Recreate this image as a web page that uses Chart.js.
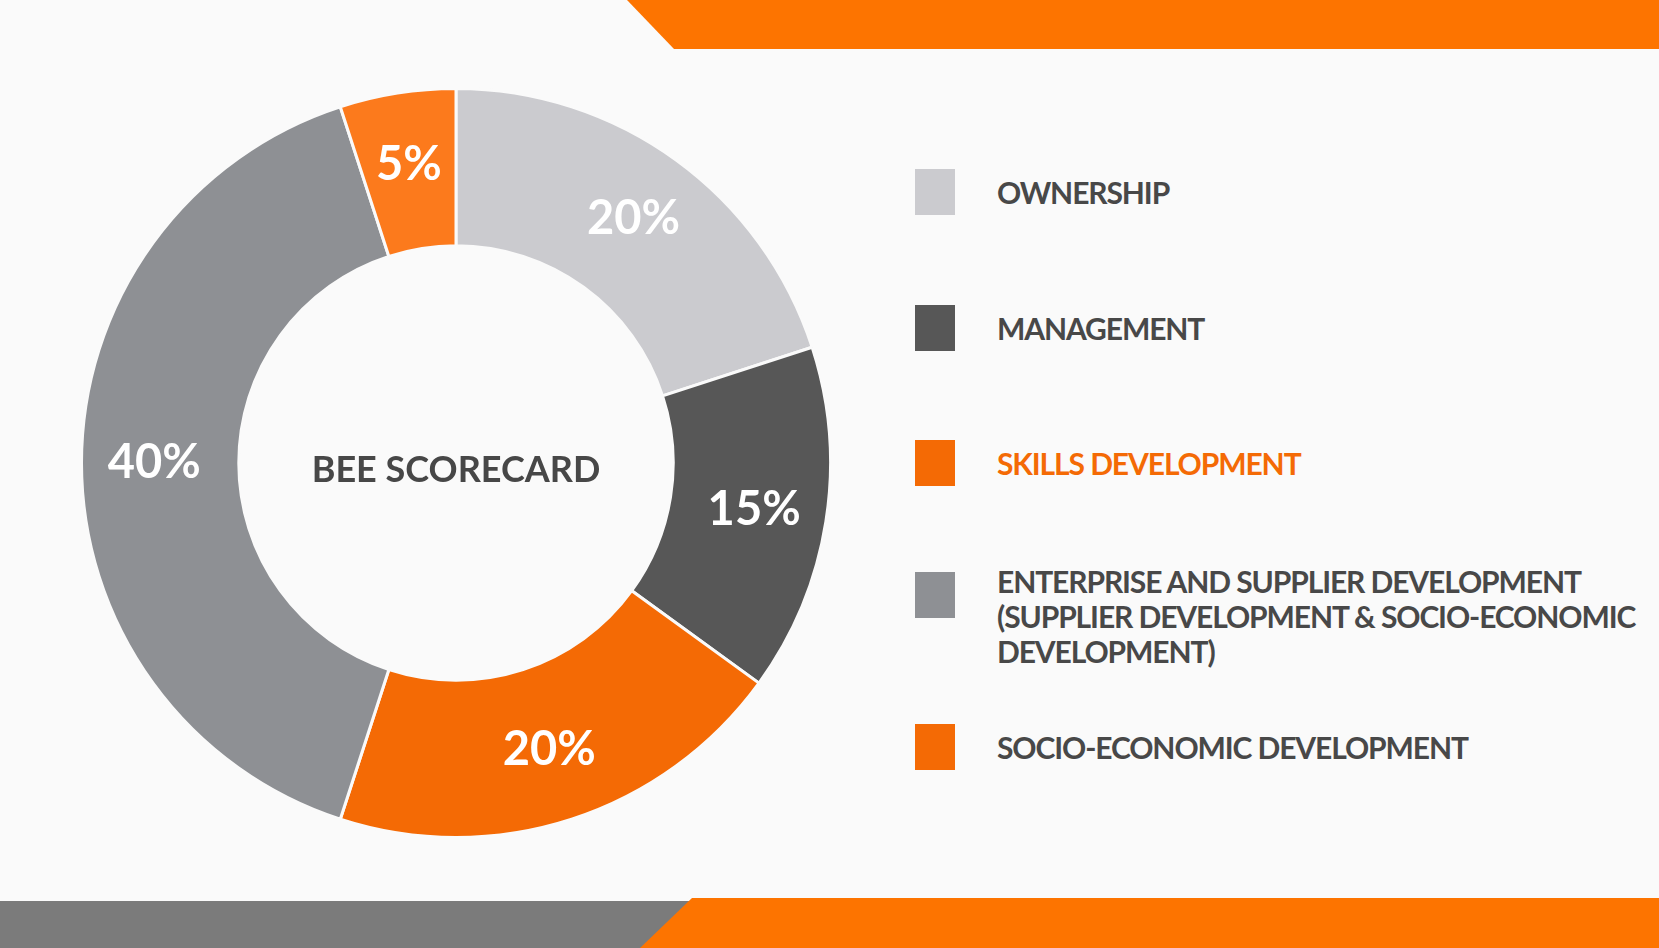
<!DOCTYPE html>
<html>
<head>
<meta charset="utf-8">
<script src="https://cdn.jsdelivr.net/npm/chart.js@4.4.1/dist/chart.umd.min.js"></script>
<style>
  html, body {
    margin: 0;
    padding: 0;
    width: 1659px;
    height: 948px;
    overflow: hidden;
    background: #fafafa;
    font-family: 'Lato', 'Noto Sans', sans-serif;
  }
  .band { position: absolute; }
  #band-top {
    left: 0; top: 0; width: 1659px; height: 49px;
    background: #fd7400;
    clip-path: polygon(627px 0, 1659px 0, 1659px 49px, 674px 49px);
  }
  #band-grey {
    left: 0; top: 901px; width: 720px; height: 47px;
    background: #7b7b7b;
  }
  #band-bottom {
    left: 0; top: 898px; width: 1659px; height: 50px;
    background: #fd7400;
    clip-path: polygon(692px 0, 1659px 0, 1659px 50px, 640px 50px);
  }
  #chart-box {
    position: absolute;
    left: 80px; top: 87px;
    width: 752px; height: 752px;
  }
  .swatch {
    position: absolute;
    left: 915px;
    width: 40px; height: 46px;
  }
  .legend-text {
    position: absolute;
    left: 997px;
    font-size: 30px;
    font-weight: 700;
    letter-spacing: -1.1px;
    line-height: 35px;
    white-space: nowrap;
    color: #484848;
  }
</style>
</head>
<body>
<div class="band" id="band-top"></div>
<div class="band" id="band-grey"></div>
<div class="band" id="band-bottom"></div>
<div id="chart-box"><canvas id="chart"></canvas></div>
<div id="legend"></div>
<script>
  // BEE scorecard weighting
  var categories = [
    ['OWNERSHIP'],
    ['MANAGEMENT'],
    ['SKILLS DEVELOPMENT'],
    ['ENTERPRISE AND SUPPLIER DEVELOPMENT', '(SUPPLIER DEVELOPMENT & SOCIO-ECONOMIC', 'DEVELOPMENT)'],
    ['SOCIO-ECONOMIC DEVELOPMENT']
  ];
  var weights = [20, 15, 20, 40, 5];
  var centerTitle = 'BEE SCORECARD';

  var sliceColors = ['#cbcbcf', '#575757', '#f46a05', '#8e9094', '#fc7a1c'];
  var swatchColors = ['#cbcbcf', '#575757', '#f46a05', '#8e9094', '#f46a05'];
  var legendTextColors = ['#484848', '#484848', '#f46a05', '#484848', '#484848'];
  // swatch tops for the legend column
  var legendTops = [169, 305, 440, 572, 724];

  // legend built from the same arrays
  var legend = document.getElementById('legend');
  for (var i = 0; i < categories.length; i++) {
    var sw = document.createElement('div');
    sw.className = 'swatch';
    sw.style.top = legendTops[i] + 'px';
    sw.style.background = swatchColors[i];
    legend.appendChild(sw);

    var tx = document.createElement('div');
    tx.className = 'legend-text';
    var lines = categories[i];
    var textTop = legendTops[i] + 23 - 17.5;
    if (lines.length > 1) textTop -= 14;
    tx.style.top = textTop + 'px';
    tx.style.color = legendTextColors[i];
    tx.innerHTML = lines.join('<br>');
    legend.appendChild(tx);
  }

  // percent labels inside the ring + title in the hole
  var ringLabels = {
    id: 'ringLabels',
    afterDatasetsDraw: function(chart) {
      var ctx = chart.ctx;
      var meta = chart.getDatasetMeta(0);
      ctx.save();
      ctx.textAlign = 'center';
      ctx.textBaseline = 'middle';
      ctx.fillStyle = '#ffffff';
      ctx.font = '700 47px Lato, "Noto Sans", sans-serif';
      meta.data.forEach(function(arc, idx) {
        var p = arc.getProps(['x', 'y', 'startAngle', 'endAngle', 'innerRadius', 'outerRadius'], true);
        var mid = (p.startAngle + p.endAngle) / 2;
        var r = (p.innerRadius + p.outerRadius) / 2 + 6;
        ctx.fillText(weights[idx] + '%', p.x + Math.cos(mid) * r, p.y + Math.sin(mid) * r);
      });
      var c = meta.data[0];
      ctx.fillStyle = '#474747';
      ctx.font = '700 36px Lato, "Noto Sans", sans-serif';
      ctx.fillText(centerTitle, c.x, c.y + 7);
      ctx.restore();
    }
  };

  var chart = new Chart(document.getElementById('chart').getContext('2d'), {
    type: 'doughnut',
    data: {
      labels: categories,
      datasets: [{
        data: weights,
        backgroundColor: sliceColors,
        borderColor: '#fafafa',
        borderWidth: 3
      }]
    },
    options: {
      responsive: true,
      maintainAspectRatio: false,
      animation: false,
      cutout: '58%',
      plugins: {
        legend: { display: false },
        tooltip: { enabled: false }
      }
    },
    plugins: [ringLabels]
  });
</script>
</body>
</html>
